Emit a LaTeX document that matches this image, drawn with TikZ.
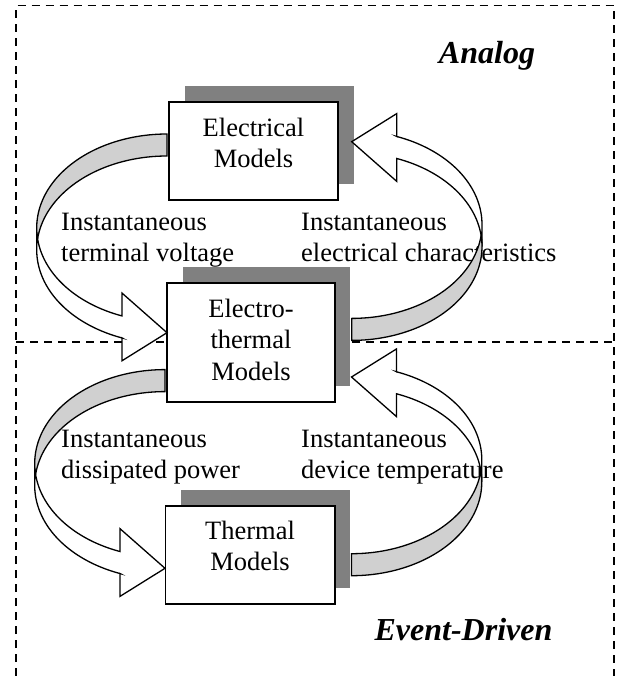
\documentclass[tikz,border=0pt]{standalone}
\usepackage{fontspec}
\setmainfont{Liberation Serif}
\usetikzlibrary{calc,shadows}
\definecolor{shadowgray}{HTML}{808080}
\definecolor{bandgray}{HTML}{D0D0D0}
\begin{document}
\begin{tikzpicture}[x=1pt,y=-1pt,
  lbl/.style={inner sep=0pt, anchor=base west, font=\fontsize{26.5}{31.5}\selectfont},
  boxtxt/.style={inner sep=0pt, anchor=base, font=\fontsize{26.5}{31.5}\selectfont},
  region/.style={inner sep=0pt, anchor=base, font=\fontsize{32}{38}\selectfont\bfseries\itshape},
  modelbox/.style={draw=black, line width=1.8pt, fill=white, inner sep=0pt,
    general shadow={shadow xshift=15.5pt, shadow yshift=16pt, fill=shadowgray, opacity=1}},
  frameline/.style={line width=1.6pt, dash pattern=on 8pt off 6pt},
  arrowline/.style={line width=1.3pt, line join=miter, draw=black},
  carrow/.pic={
    \path[arrowline, fill=white]
      plot[domain=180:110.2, samples=50] ({130.3*cos(\x)}, {-104.85+93.85*sin(\x)})
      -- (-45,-39.63) -- (0,0) -- (-45,28.07) -- (-45,5.22)
      -- plot[domain=110.2:180, samples=50] ({130.3*cos(\x)}, {-82.85+93.85*sin(\x)})
      -- cycle;
    \path[arrowline, fill=bandgray]
      plot[domain=270:186.73, samples=50] ({130.3*cos(\x)}, {-82.85+93.85*sin(\x)})
      -- plot[domain=173.27:270, samples=50] ({130.3*cos(\x)}, {-104.85+93.85*sin(\x)})
      -- cycle;
  }
]
\useasboundingbox (0,0) rectangle (616,676);

% dashed frame
\coordinate (fBL) at (16,676);
\coordinate (fTL) at (16,5.7);
\coordinate (fTR) at (614,5.7);
\coordinate (fBR) at (614,676);
\coordinate (mL) at (16,341.7);
\coordinate (mR) at (614,341.7);
\draw[frameline] (fBL) -- (fTL) -- (fTR) -- (fBR);
\draw[frameline] (mL) -- (mR);

% region titles
\node[region] (analog) at (487,64) {Analog};
\node[region] (event) at (463.5,640) {Event-Driven};

% arrow labels
\node[lbl] (l1) at (61,230) {\begin{tabular}[t]{@{}l@{}}Instantaneous\\terminal voltage\end{tabular}};
\node[lbl] (l2) at (301,230) {\begin{tabular}[t]{@{}l@{}}Instantaneous\\electrical characteristics\end{tabular}};
\node[lbl] (l3) at (61,447) {\begin{tabular}[t]{@{}l@{}}Instantaneous\\dissipated power\end{tabular}};
\node[lbl] (l4) at (301,447) {\begin{tabular}[t]{@{}l@{}}Instantaneous\\device temperature\end{tabular}};

% model boxes
\node[modelbox, minimum width=169pt, minimum height=98.3pt] (E) at (253.5,150.85) {};
\node[modelbox, minimum width=167.3pt, minimum height=118.4pt] (ET) at (251,342.5) {};
\node[modelbox, minimum width=169.2pt, minimum height=98.3pt] (T) at (250,554.85) {};

\node[boxtxt] (Etxt) at ($(E.north)+(0,35.3)$) {\begin{tabular}[t]{@{}c@{}}Electrical\\Models\end{tabular}};
\node[boxtxt] (ETtxt) at ($(ET.north)+(0,34.7)$) {\begin{tabular}[t]{@{}c@{}}Electro-\\thermal\\Models\end{tabular}};
\node[boxtxt] (Ttxt) at ($(T.north)+(0,34.3)$) {\begin{tabular}[t]{@{}c@{}}Thermal\\Models\end{tabular}};

% curved block arrows (tips)
\coordinate (tip1) at (167,332.7);
\coordinate (tip2) at (351.7,141.7);
\coordinate (tip3) at (165,568.3);
\coordinate (tip4) at (351.5,377);
\pic at (tip1) {carrow};
\pic[rotate=180] at (tip2) {carrow};
\pic at (tip3) {carrow};
\pic[rotate=180] at (tip4) {carrow};
\end{tikzpicture}
\end{document}
